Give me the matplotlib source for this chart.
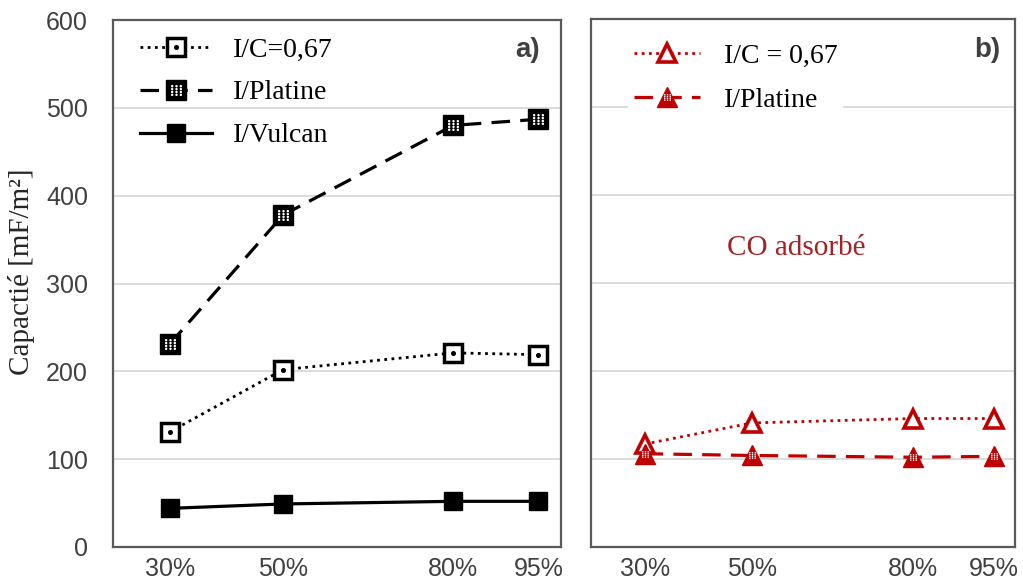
import matplotlib
matplotlib.use("Agg")
import matplotlib.pyplot as plt
from matplotlib.path import Path
from matplotlib.legend_handler import HandlerTuple

# ---- data ----
x_labels = ["30%", "50%", "80%", "95%"]
x_vals = [30, 50, 80, 95]

a_ic = [131, 202, 221, 219]
a_platine = [231, 378, 480, 487]
a_vulcan = [44, 49, 52, 52]

b_ic = [117, 141, 146, 146]
b_platine = [106, 104, 102, 103]

y_ticks = [0, 100, 200, 300, 400, 500, 600]

# ---- styling ----
RED = "#C00000"
TXT = "#404040"
GRID = "#d9d9d9"
SPINE = "#595959"
SERIF = "Liberation Serif"
SANS = "Liberation Sans"

W, H = 1023, 585
fig = plt.figure(figsize=(W / 100, H / 100), dpi=100)


def fx(px):
    return px / W


def fy(py):
    return 1 - py / H


axA = fig.add_axes([fx(113), fy(547), fx(561) - fx(113), fy(20) - fy(547)])
axB = fig.add_axes([fx(591), fy(547), fx(1015) - fx(591), fy(19) - fy(547)])


def dot_grid(nx, ny):
    paths = []
    for i in range(nx):
        for j in range(ny):
            cx = -1 + 2 * i / (nx - 1)
            cy = -1 + 2 * j / (ny - 1)
            paths.append(Path.circle((cx, cy), 0.28))
    return Path.make_compound_path(*paths)


PATTERN = dot_grid(3, 4)

for ax in (axA, axB):
    ax.set_xlim(20, 99)
    ax.set_ylim(0, 600)
    ax.set_yticks(y_ticks)
    ax.set_xticks(x_vals)
    ax.set_xticklabels(x_labels)
    ax.grid(axis="y", color=GRID, linewidth=1.3, zorder=0)
    ax.set_axisbelow(True)
    for s in ax.spines.values():
        s.set_color(SPINE)
        s.set_linewidth(1.6)
    ax.tick_params(length=0, labelsize=18, colors=TXT, labelfontfamily=SANS)
    ax.tick_params(axis="x", pad=7)
    ax.tick_params(axis="y", pad=18)

axB.tick_params(axis="y", labelleft=False)

# ---- panel a ----
dot_style = (0, (1, 1.6))
dash_style = (0, (5.8, 3.2))

l1, = axA.plot(x_vals, a_ic, color="black", linestyle=dot_style, linewidth=2.0,
               marker="s", markersize=12.5, markerfacecolor="white",
               markeredgecolor="black", markeredgewidth=2.5, zorder=3)
l1d, = axA.plot(x_vals, a_ic, linestyle="none", marker="o", markersize=2.6,
                color="black", zorder=4)
l2, = axA.plot(x_vals, a_platine, color="black", linestyle=dash_style, linewidth=2.3,
               marker="s", markersize=14, markerfacecolor="black",
               markeredgecolor="black", markeredgewidth=1, zorder=3)
l2p, = axA.plot(x_vals, a_platine, linestyle="none", marker=PATTERN, markersize=8,
                markerfacecolor="white", markeredgewidth=0, zorder=4)
l3, = axA.plot(x_vals, a_vulcan, color="black", linestyle="-", linewidth=2.3,
               marker="s", markersize=13, markerfacecolor="black",
               markeredgecolor="black", zorder=3)

axA.legend([(l1, l1d), (l2, l2p), l3], ["I/C=0,67", "I/Platine", "I/Vulcan"],
           handler_map={tuple: HandlerTuple(ndivide=1)},
           loc="upper left", bbox_to_anchor=((140 - 113) / 448, 1 - (37 - 20) / 527),
           borderaxespad=0, borderpad=0, frameon=False, numpoints=1,
           handlelength=2.6, handletextpad=0.75, labelspacing=0.63,
           prop={"family": SERIF, "size": 20})

axA.text((528 - 113) / 448, 1 - (50 - 20) / 527, "a)", fontsize=20, fontweight="bold",
         color=TXT, family=SANS, ha="center", va="center", transform=axA.transAxes)

fig.text(fx(22), fy(272), "Capactié [mF/m²]", rotation=90, ha="center", va="center",
         family=SERIF, fontsize=21, color="#262626")

# ---- panel b ----
t1, = axB.plot(x_vals, b_ic, color=RED, linestyle=dot_style, linewidth=2.0,
               marker="^", markersize=13, markerfacecolor="white",
               markeredgecolor=RED, markeredgewidth=2.6, zorder=3)
t2, = axB.plot(x_vals, b_platine, color=RED, linestyle=dash_style, linewidth=2.3,
               marker="^", markersize=14, markerfacecolor=RED,
               markeredgecolor=RED, markeredgewidth=1, zorder=3)
t2p, = axB.plot(x_vals, b_platine, linestyle="none", marker=PATTERN, markersize=5,
                markerfacecolor="white", markeredgewidth=0, zorder=4)

axB.legend([t1, (t2, t2p)], ["I/C = 0,67", "I/Platine"],
           handler_map={tuple: HandlerTuple(ndivide=1)},
           loc="upper left", bbox_to_anchor=((628 - 591) / 424, 1 - (38 - 19) / 528),
           borderaxespad=0, borderpad=0.2, frameon=True, numpoints=1,
           facecolor="white", edgecolor="none", framealpha=1, fancybox=False,
           handlelength=2.4, handletextpad=0.85, labelspacing=0.67,
           prop={"family": SERIF, "size": 20})

axB.text((987 - 591) / 424, 1 - (50 - 19) / 528, "b)", fontsize=20, fontweight="bold",
         color=TXT, family=SANS, ha="center", va="center", transform=axB.transAxes)
axB.text((796 - 591) / 424, 1 - (248 - 19) / 528, "CO adsorbé", fontsize=21,
         color="#A52124", family=SERIF, ha="center", va="center", transform=axB.transAxes)

fig.savefig("out.png", dpi=100)
